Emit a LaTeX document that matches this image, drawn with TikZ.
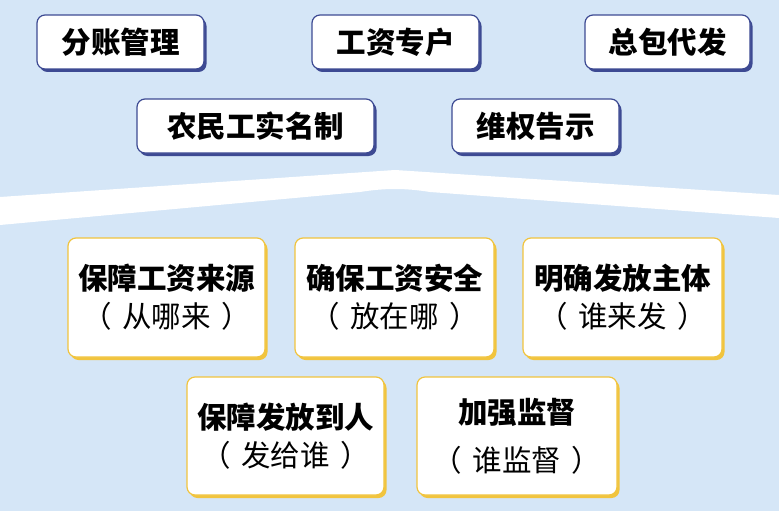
\documentclass[tikz,border=0pt]{standalone}
\usepackage{fontspec}
\setmainfont{Noto Sans CJK SC}
\usetikzlibrary{shadows}

\definecolor{bgblue}{HTML}{D5E6F7}
\definecolor{navyline}{HTML}{3D4A93}
\definecolor{goldline}{HTML}{F1C43E}

\newcommand{\paren}[1]{（\hspace{0.35em}#1\hspace{0.35em}）}

\tikzset{
  measure/.style={rounded corners=8pt, fill=white, inner sep=0pt, align=center},
  topbox/.style={measure, draw=navyline, line width=1.2pt, minimum height=54pt,
    general shadow={fill=navyline, shadow xshift=2.5pt, shadow yshift=-3pt},
    font=\fontsize{29.5}{34}\selectfont\bfseries},
  goalbox/.style={measure, draw=goldline, line width=1.2pt, minimum height=119pt,
    general shadow={fill=goldline, shadow xshift=2.5pt, shadow yshift=-3pt},
    font=\fontsize{29.5}{38}\selectfont},
}

\begin{document}
\begin{tikzpicture}[x=1pt, y=-1pt]
\fill[bgblue] (0,0) rectangle (779,511);
\useasboundingbox (0,0) rectangle (779,511);

% white band across the middle
\fill[white] (0,197) -- (395,170) -- (779,195) -- (779,218)
  -- (430,192) .. controls (405,188) and (385,188) .. (360,192) -- (0,225) -- cycle;

% measures
\node[topbox, minimum width=167pt] (fenzhang) at (120.5,42) {分账管理};
\node[topbox, minimum width=167pt] (zhuanhu) at (395.5,42) {工资专户};
\node[topbox, minimum width=165pt] (daifa) at (667.5,42) {总包代发};
\node[topbox, minimum width=237pt] (shiming) at (255.5,126) {农民工实名制};
\node[topbox, minimum width=167pt] (weiquan) at (535.5,126) {维权告示};

% goals
\node[goalbox, minimum width=197pt] (laiyuan) at (166.5,297.5)
  {\textbf{保障工资来源}\\\paren{从哪来}};
\node[goalbox, minimum width=199pt] (anquan) at (394.5,297.5)
  {\textbf{确保工资安全}\\\paren{放在哪}};
\node[goalbox, minimum width=199pt] (zhuti) at (622.5,297.5)
  {\textbf{明确发放主体}\\\paren{谁来发}};
\node[goalbox, minimum width=197pt, minimum height=118pt] (daoren) at (285.5,436)
  {\textbf{保障发放到人}\\\paren{发给谁}};
\node[goalbox, minimum width=200pt, minimum height=118pt,
  font=\fontsize{29.5}{48}\selectfont] (jiandu) at (517,436)
  {\textbf{加强监督}\\\paren{谁监督}};
\end{tikzpicture}
\end{document}
